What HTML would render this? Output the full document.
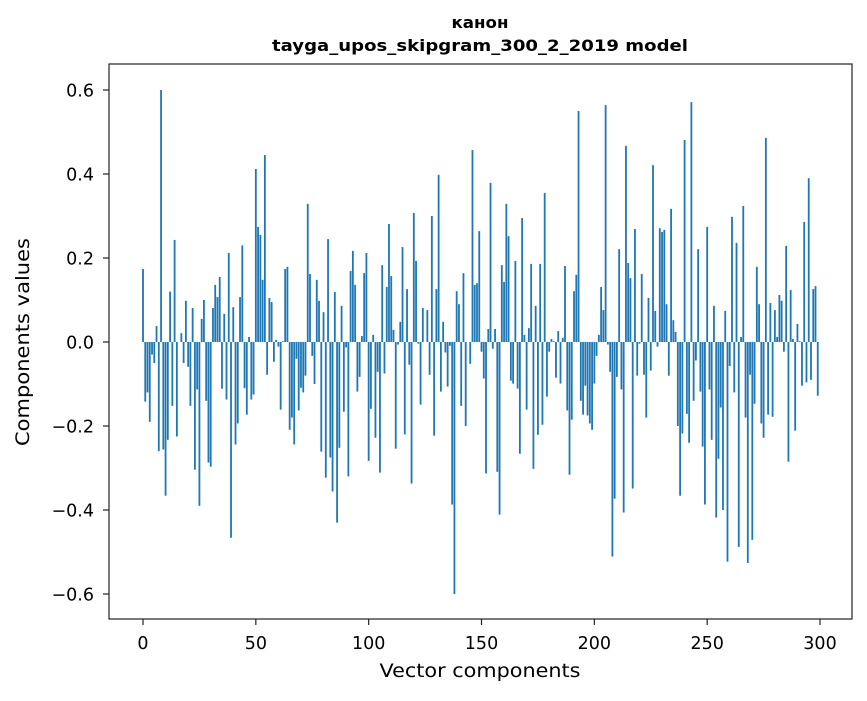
<!DOCTYPE html>
<html><head><meta charset="utf-8"><style>
html,body{margin:0;padding:0;background:#fff;}
svg text{font-family:"DejaVu Sans","Liberation Sans",sans-serif;fill:#000;}
</style></head><body>
<svg id="chart" width="867" height="696" xmlns="http://www.w3.org/2000/svg">
<rect x="0" y="0" width="867" height="696" fill="#fff"/>
<text x="480" y="28" text-anchor="middle" font-size="16" font-weight="bold" textLength="57" lengthAdjust="spacingAndGlyphs">канон</text>
<text x="480" y="51" text-anchor="middle" font-size="16" font-weight="bold" textLength="416" lengthAdjust="spacingAndGlyphs">tayga_upos_skipgram_300_2_2019 model</text>
<g id="bars"></g>
<rect x="109" y="64" width="743" height="555" fill="none" stroke="#222" stroke-width="1.2"/>
<g id="xticks"></g>
<g id="yticks"></g>
<text x="480" y="677" text-anchor="middle" font-size="19" textLength="201" lengthAdjust="spacingAndGlyphs">Vector components</text>
<text transform="translate(29,342) rotate(-90)" text-anchor="middle" font-size="19" textLength="208" lengthAdjust="spacingAndGlyphs">Components values</text>
</svg>
<script>
const values = [0.174,-0.142,-0.12,-0.19,-0.03,-0.05,0.038,-0.26,0.60,-0.256,
-0.366,-0.233,0.12,-0.152,0.243,-0.225,0.0,0.021,-0.05,0.098,
-0.059,-0.152,0.081,-0.304,-0.113,-0.39,0.055,0.1,-0.14,-0.287,
-0.297,0.081,0.136,0.107,0.155,-0.111,0.067,-0.137,0.212,-0.466,
0.083,-0.244,-0.194,0.107,0.23,-0.11,-0.173,0.012,-0.137,-0.125,
0.412,0.274,0.255,0.148,0.445,-0.078,0.105,0.095,-0.047,0.005,
-0.011,-0.161,0.002,0.174,0.179,-0.209,-0.18,-0.244,-0.04,-0.163,
-0.109,-0.12,-0.08,0.329,0.162,-0.033,-0.1,0.148,0.098,-0.261,
0.071,-0.323,0.245,-0.275,-0.356,0.119,-0.43,-0.252,0.086,-0.166,
-0.013,-0.32,0.169,0.217,0.136,-0.118,-0.083,0.014,0.164,0.212,
-0.283,-0.159,0.017,-0.228,-0.071,-0.311,0.183,-0.075,0.131,0.281,
0.157,0.029,-0.254,-0.006,0.048,0.226,-0.22,0.126,-0.054,-0.337,
0.307,0.193,-0.004,-0.149,0.081,0.0,0.076,-0.078,0.3,-0.223,
0.126,0.398,-0.118,0.048,-0.025,-0.106,-0.009,-0.387,-0.6,0.121,
0.09,-0.152,0.164,-0.2,0.0,-0.052,0.457,0.136,0.14,0.264,
-0.023,-0.087,-0.313,0.031,0.379,-0.016,0.031,-0.309,-0.411,0.183,
0.143,0.329,0.252,-0.092,-0.099,0.193,-0.111,-0.266,0.295,0.017,
-0.161,0.033,0.186,-0.302,0.086,-0.221,0.186,-0.197,0.355,-0.13,
-0.023,0.007,0.002,-0.085,0.026,-0.099,0.01,0.181,-0.163,-0.316,
-0.185,0.121,0.16,0.55,-0.14,-0.173,-0.104,-0.175,-0.194,-0.209,
-0.099,-0.033,0.017,0.131,0.076,0.564,-0.006,-0.071,-0.511,-0.373,
-0.083,0.221,-0.113,-0.406,0.467,0.188,0.152,-0.349,0.269,-0.08,
-0.004,0.162,-0.078,-0.18,0.105,-0.068,0.421,0.074,-0.011,0.271,
0.262,0.267,0.09,-0.08,0.317,0.052,0.024,-0.2,-0.366,-0.218,
0.481,-0.171,-0.24,0.571,-0.14,-0.044,0.221,-0.118,-0.249,-0.387,
0.274,-0.113,-0.233,0.086,-0.418,-0.278,-0.156,-0.4,0.074,-0.523,
-0.057,0.298,-0.12,0.236,-0.488,0.012,0.324,-0.18,-0.526,-0.078,
-0.471,-0.147,0.179,0.09,-0.194,-0.228,0.486,-0.173,0.093,-0.178,
0.076,0.012,0.112,0.098,-0.023,0.229,-0.285,0.124,0.007,-0.211,
0.043,0.002,-0.104,0.286,-0.096,0.39,-0.09,0.126,0.133,-0.128];
const xTickValues = [0,50,100,150,200,250,300];
const xTickLabels = ["0","50","100","150","200","250","300"];
const yTickValues = [-0.6,-0.4,-0.2,0.0,0.2,0.4,0.6];
const yTickLabels = ["\u22120.6","\u22120.4","\u22120.2","0.0","0.2","0.4","0.6"];

const NS="http://www.w3.org/2000/svg";
const xScale = v => 143 + v*2.2567;
const yScale = v => 342 - v*420;
const bw = 0.8*2.2567;
const barsG=document.getElementById('bars');
values.forEach((v,i)=>{
  const r=document.createElementNS(NS,'rect');
  const y0=yScale(Math.max(v,0)), y1=yScale(Math.min(v,0));
  r.setAttribute('x',xScale(i)-bw/2);
  r.setAttribute('y',y0);
  r.setAttribute('width',bw);
  r.setAttribute('height',Math.max(y1-y0,0));
  r.setAttribute('fill','#1f77b4');
  
  
  barsG.appendChild(r);
});
const xg=document.getElementById('xticks');
xTickValues.forEach((v,i)=>{
  const x=xScale(v);
  const l=document.createElementNS(NS,'line');
  l.setAttribute('x1',x);l.setAttribute('x2',x);l.setAttribute('y1',619);l.setAttribute('y2',625);
  l.setAttribute('stroke','#222');l.setAttribute('stroke-width','1.2');
  
  
  xg.appendChild(l);
  const t=document.createElementNS(NS,'text');
  t.setAttribute('x',x);t.setAttribute('y',649);t.setAttribute('text-anchor','middle');t.setAttribute('font-size','17.5');
  t.textContent=xTickLabels[i];
  
  
  xg.appendChild(t);
});
const yg=document.getElementById('yticks');
yTickValues.forEach((v,i)=>{
  const y=yScale(v);
  const l=document.createElementNS(NS,'line');
  l.setAttribute('x1',103);l.setAttribute('x2',109);l.setAttribute('y1',y);l.setAttribute('y2',y);
  l.setAttribute('stroke','#222');l.setAttribute('stroke-width','1.2');
  
  
  yg.appendChild(l);
  const t=document.createElementNS(NS,'text');
  t.setAttribute('x',94);t.setAttribute('y',y+6.5);t.setAttribute('text-anchor','end');t.setAttribute('font-size','17.5');
  t.textContent=yTickLabels[i];
  
  
  yg.appendChild(t);
});
</script>
</body></html>
